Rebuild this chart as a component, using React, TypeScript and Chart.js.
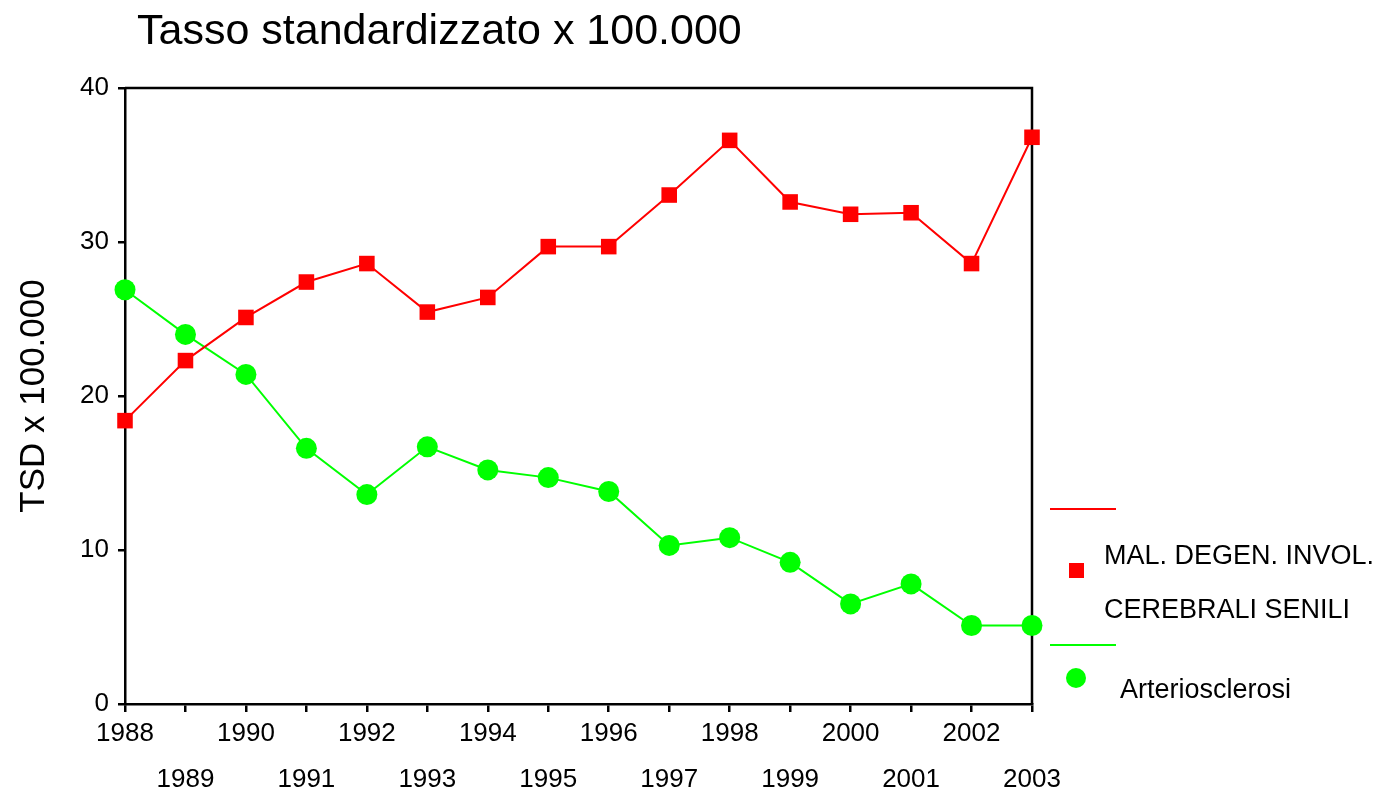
import React, { useEffect, useRef } from 'react';
import { Chart, registerables } from 'chart.js';

Chart.register(...registerables);

const years = ['1988', '1989', '1990', '1991', '1992', '1993', '1994', '1995', '1996', '1997', '1998', '1999', '2000', '2001', '2002', '2003'];
const malDegen = [18.4, 22.3, 25.1, 27.4, 28.6, 25.45, 26.4, 29.7, 29.7, 33.05, 36.6, 32.6, 31.8, 31.9, 28.6, 36.8];
const arterio = [26.9, 24.0, 21.4, 16.6, 13.6, 16.7, 15.2, 14.7, 13.8, 10.3, 10.8, 9.2, 6.5, 7.8, 5.1, 5.1];
const yTicks = [0, 10, 20, 30, 40];

const titleText = 'Tasso standardizzato x 100.000';
const yTitle = 'TSD x 100.000';
const legendRed = ['MAL. DEGEN. INVOL.', 'CEREBRALI SENILI'];
const legendGreen = 'Arteriosclerosi';

const FONT = "'Liberation Sans', Arial, Helvetica, sans-serif";
const RED = '#ff0000';
const GREEN = '#00ff00';

const decorPlugin = {
  id: 'decor',
  beforeDatasetsDraw(chart: any) {
    const { ctx, chartArea } = chart;
    ctx.save();
    ctx.strokeStyle = '#000';
    ctx.lineWidth = 2.5;
    ctx.beginPath();
    ctx.moveTo(chartArea.left, chartArea.top);
    ctx.lineTo(chartArea.right, chartArea.top);
    ctx.lineTo(chartArea.right, chartArea.bottom);
    ctx.stroke();
    ctx.restore();
  },
  afterDraw(chart: any) {
    const { ctx } = chart;
    ctx.save();
    ctx.fillStyle = '#000';
    ctx.textAlign = 'left';
    ctx.textBaseline = 'alphabetic';
    ctx.font = `43px ${FONT}`;
    ctx.fillText(titleText, 137, 44);

    // legend
    ctx.lineWidth = 2;
    ctx.strokeStyle = RED;
    ctx.beginPath();
    ctx.moveTo(1050, 509);
    ctx.lineTo(1116, 509);
    ctx.stroke();
    ctx.fillStyle = RED;
    ctx.fillRect(1069, 563, 15, 15);

    ctx.strokeStyle = GREEN;
    ctx.beginPath();
    ctx.moveTo(1050, 645);
    ctx.lineTo(1116, 645);
    ctx.stroke();
    ctx.fillStyle = GREEN;
    ctx.beginPath();
    ctx.arc(1076, 678, 10, 0, Math.PI * 2);
    ctx.fill();

    ctx.fillStyle = '#000';
    ctx.font = `27px ${FONT}`;
    ctx.textBaseline = 'middle';
    ctx.fillText(legendRed[0], 1104, 557);
    ctx.fillText(legendRed[1], 1104, 611);
    ctx.fillText(legendGreen, 1120, 691);
    ctx.restore();
  },
};

export default function App() {
  const ref = useRef<HTMLCanvasElement>(null);

  useEffect(() => {
    if (!ref.current) return;
    const chart = new Chart(ref.current, {
      type: 'line',
      data: {
        labels: years,
        datasets: [
          {
            label: legendRed.join(' '),
            data: malDegen,
            borderColor: RED,
            backgroundColor: RED,
            borderWidth: 2,
            pointStyle: 'rect',
            pointRadius: 11,
            pointBorderWidth: 0,
            pointBackgroundColor: RED,
            tension: 0,
            clip: false,
          },
          {
            label: legendGreen,
            data: arterio,
            borderColor: GREEN,
            backgroundColor: GREEN,
            borderWidth: 2,
            pointStyle: 'circle',
            pointRadius: 10.5,
            pointBorderWidth: 0,
            pointBackgroundColor: GREEN,
            tension: 0,
            clip: false,
          },
        ],
      },
      options: {
        responsive: false,
        animation: false,
        events: [],
        layout: { padding: { top: 88, right: 352, left: 0, bottom: 0 } },
        plugins: {
          legend: { display: false },
          title: { display: false },
          tooltip: { enabled: false },
        },
        scales: {
          x: {
            type: 'category',
            offset: false,
            grid: {
              display: true,
              drawOnChartArea: false,
              drawTicks: true,
              tickLength: 8,
              color: '#000',
              lineWidth: 2.5,
            },
            border: { display: true, color: '#000', width: 2.5 },
            ticks: {
              autoSkip: false,
              maxRotation: 0,
              minRotation: 0,
              padding: 10,
              color: '#000',
              font: { family: FONT, size: 26, lineHeight: '23px' },
              callback: (_v: any, i: number) => (i % 2 === 0 ? [years[i]] : ['', '', years[i]]),
            },
            afterFit: (s: any) => {
              s.height = 87;
            },
          },
          y: {
            min: 0,
            max: 40,
            afterBuildTicks: (s: any) => {
              s.ticks = yTicks.map((v) => ({ value: v }));
            },
            grid: {
              display: true,
              drawOnChartArea: false,
              drawTicks: true,
              tickLength: 7,
              color: '#000',
              lineWidth: 2.5,
            },
            border: { display: true, color: '#000', width: 2.5 },
            ticks: {
              padding: 9,
              color: '#000',
              font: { family: FONT, size: 26 },
            },
            title: {
              display: true,
              text: yTitle,
              color: '#000',
              font: { family: FONT, size: 35 },
              padding: { top: 13, bottom: 0 },
            },
            afterFit: (s: any) => {
              s.width = 125;
            },
          },
        },
      },
      plugins: [decorPlugin],
    } as any);
    return () => chart.destroy();
  }, []);

  return (
    <div style={{ position: 'fixed', left: 0, top: 0, width: 1384, height: 791, background: '#fff' }}>
      <canvas ref={ref} width={1384} height={791} style={{ display: 'block' }} />
    </div>
  );
}
